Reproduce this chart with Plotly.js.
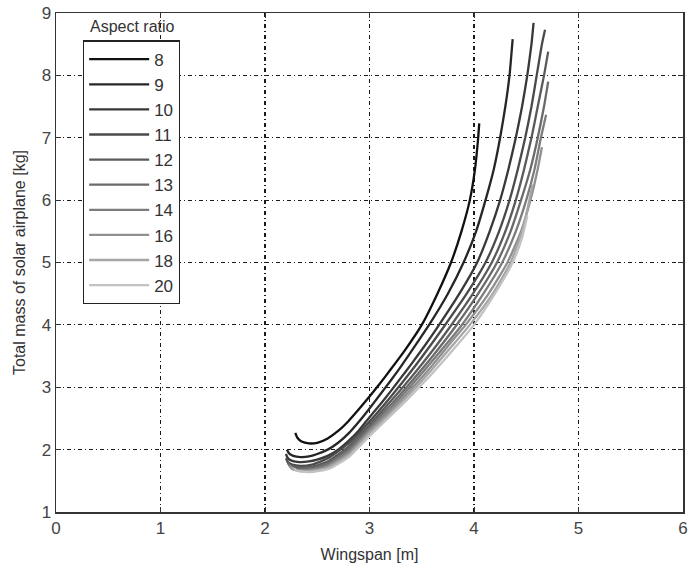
<!DOCTYPE html>
<html>
<head>
<meta charset="utf-8">
<script src="https://cdn.plot.ly/plotly-3.0.1.min.js"></script>
<style>html,body{margin:0;padding:0;background:#fff;}#chart{width:689px;height:567px;}</style>
</head>
<body>
<div id="chart"></div>
<script>
// Aspect ratios (legend labels)
const aspectRatios = ["8", "9", "10", "11", "12", "13", "14", "16", "18", "20"];

// Wingspan [m] and total mass [kg] for each aspect ratio
const span8  = [2.29,2.31,2.35,2.42,2.5,2.6,2.7,2.8,2.9,3.0,3.1,3.2,3.35,3.5,3.65,3.78,3.88,3.96,4.01,4.04,4.05];
const mass8  = [2.27,2.19,2.13,2.10,2.11,2.18,2.3,2.46,2.65,2.85,3.06,3.28,3.62,4.0,4.5,5.0,5.5,6.0,6.5,7.0,7.23];
const span9  = [2.21,2.23,2.27,2.34,2.42,2.5,2.6,2.7,2.8,2.9,3.0,3.1,3.2,3.3,3.45,3.57,3.75,3.9,4.02,4.11,4.19,4.25,4.3,4.34,4.37];
const mass9  = [2.0,1.94,1.9,1.88,1.89,1.93,2.0,2.11,2.26,2.45,2.66,2.88,3.1,3.33,3.7,4.0,4.5,5.0,5.5,6.0,6.5,7.0,7.5,8.0,8.58];
const span10 = [2.2,2.22,2.26,2.33,2.42,2.5,2.6,2.7,2.8,2.9,3.0,3.1,3.2,3.3,3.4,3.53,3.65,3.86,4.03,4.15,4.25,4.33,4.4,4.46,4.51,4.55,4.57];
const mass10 = [1.93,1.86,1.82,1.8,1.81,1.84,1.9,2.0,2.14,2.31,2.52,2.72,2.93,3.15,3.37,3.67,3.96,4.5,5.0,5.5,6.0,6.5,7.0,7.5,8.0,8.5,8.84];
const span11 = [2.2,2.22,2.26,2.34,2.45,2.6,2.8,3.0,3.2,3.4,3.6,3.72,3.93,4.11,4.24,4.34,4.42,4.49,4.55,4.6,4.65,4.68];
const mass11 = [1.86,1.8,1.76,1.74,1.76,1.86,2.1,2.45,2.84,3.26,3.71,3.99,4.5,5.0,5.5,6.0,6.5,7.0,7.5,8.0,8.5,8.73];
const span12 = [2.21,2.23,2.27,2.35,2.46,2.6,2.8,3.0,3.2,3.4,3.6,3.78,3.99,4.17,4.3,4.4,4.48,4.55,4.61,4.67,4.71];
const mass12 = [1.82,1.76,1.73,1.71,1.73,1.81,2.05,2.4,2.77,3.16,3.58,3.99,4.5,5.0,5.5,6.0,6.5,7.0,7.5,8.0,8.38];
const span13 = [2.22,2.24,2.28,2.36,2.47,2.6,2.8,3.0,3.2,3.4,3.6,3.83,4.04,4.22,4.35,4.45,4.54,4.61,4.67,4.71];
const mass13 = [1.79,1.73,1.7,1.69,1.71,1.78,2.01,2.36,2.71,3.09,3.49,3.99,4.5,5.0,5.5,6.0,6.5,7.0,7.5,7.9];
const span14 = [2.23,2.25,2.29,2.37,2.48,2.6,2.8,3.0,3.2,3.4,3.6,3.88,4.09,4.27,4.4,4.5,4.58,4.64,4.69];
const mass14 = [1.76,1.71,1.68,1.67,1.69,1.75,1.97,2.32,2.66,3.03,3.42,3.99,4.5,5.0,5.5,6.0,6.5,7.0,7.37];
const span16 = [2.24,2.26,2.3,2.38,2.49,2.6,2.8,3.0,3.2,3.4,3.6,3.8,3.92,4.14,4.32,4.45,4.54,4.61,4.65];
const mass16 = [1.74,1.69,1.67,1.66,1.68,1.73,1.94,2.29,2.62,2.97,3.35,3.76,4.0,4.5,5.0,5.5,6.0,6.5,6.85];
const span18 = [2.26,2.28,2.32,2.4,2.5,2.6,2.8,3.0,3.2,3.4,3.6,3.8,3.96,4.18,4.35,4.46,4.53,4.56];
const mass18 = [1.72,1.68,1.66,1.65,1.67,1.71,1.91,2.26,2.58,2.92,3.29,3.68,4.0,4.5,5.0,5.5,6.0,6.25];
const span20 = [2.28,2.3,2.34,2.42,2.52,2.62,2.8,3.0,3.2,3.4,3.6,3.8,4.0,4.2,4.37,4.46,4.51];
const mass20 = [1.7,1.66,1.65,1.64,1.66,1.7,1.88,2.22,2.54,2.87,3.22,3.6,4.0,4.5,5.0,5.4,5.75];

const spans  = [span8, span9, span10, span11, span12, span13, span14, span16, span18, span20];
const masses = [mass8, mass9, mass10, mass11, mass12, mass13, mass14, mass16, mass18, mass20];
const colors = ["#111111","#262626","#383838","#4a4a4a","#5a5a5a","#6a6a6a","#7c7c7c","#8f8f8f","#a6a6a6","#c2c2c2"];

const traces = aspectRatios.map((ar, i) => ({
  x: spans[i], y: masses[i], type: "scatter", mode: "lines",
  name: ar, line: {color: colors[i], width: 2.3, shape: "spline", smoothing: 0.5}
}));

const fontFam = "Liberation Sans, Arial, sans-serif";
const gridStyle = {gridcolor: "#1a1a1a", gridwidth: 1.2, griddash: "4px,3px,1px,3px"};

const layout = {
  width: 689, height: 567,
  margin: {l: 56, r: 6, t: 13, b: 55},
  paper_bgcolor: "#fff", plot_bgcolor: "#fff",
  font: {family: fontFam, size: 16, color: "#333"},
  showlegend: true,
  legend: {
    x: 0.043, y: 0.945, xanchor: "left", yanchor: "top",
    bordercolor: "#222", borderwidth: 1.2, bgcolor: "#fff",
    font: {family: fontFam, size: 17, color: "#333"},
    tracegroupgap: 0, itemwidth: 60
  },
  xaxis: Object.assign({
    range: [0, 6], dtick: 1, tick0: 0,
    showline: true, linecolor: "#333", linewidth: 1.5, mirror: "ticks",
    ticks: "inside", ticklen: 5, tickcolor: "#333",
    zeroline: false, showgrid: true, ticklabeloverflow: "allow",
    tickfont: {family: fontFam, size: 17, color: "#444"},
    title: {text: "Wingspan [m]", font: {family: fontFam, size: 16, color: "#333"}, standoff: 12}
  }, gridStyle),
  yaxis: Object.assign({
    range: [1, 9], dtick: 1, tick0: 1,
    showline: true, linecolor: "#333", linewidth: 1.5, mirror: "ticks",
    ticks: "inside", ticklen: 5, tickcolor: "#333",
    zeroline: false, showgrid: true,
    tickfont: {family: fontFam, size: 17, color: "#444"},
    title: {text: "Total mass of solar airplane [kg]", font: {family: fontFam, size: 16, color: "#333"}, standoff: 12}
  }, gridStyle),
  annotations: [{
    text: "Aspect ratio", xref: "paper", yref: "paper",
    x: 0.122, y: 0.972, xanchor: "center", yanchor: "middle",
    showarrow: false, font: {family: fontFam, size: 16, color: "#333"}
  }]
};

Plotly.newPlot("chart", traces, layout, {displayModeBar: false, staticPlot: true});
</script>
</body>
</html>
